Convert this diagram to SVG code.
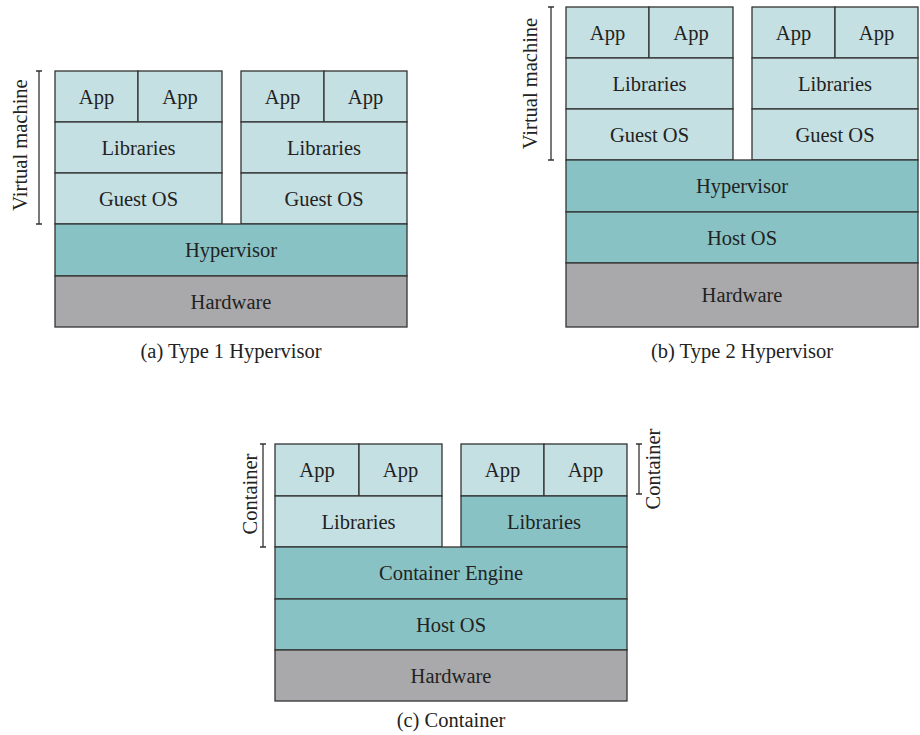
<svg xmlns="http://www.w3.org/2000/svg" width="920" height="735" viewBox="0 0 920 735">
<style>
rect{stroke:#333;stroke-width:1.3}
.l{fill:#c5e0e2}
.m{fill:#88c2c5}
.g{fill:#a9a9ab}
text{font-family:"Liberation Serif","Times New Roman",serif;font-size:20.5px;fill:#222;text-anchor:middle}
.br{stroke:#333;stroke-width:1.3;fill:none}
</style>
<!-- (a) -->
<g id="a-vm1">
<rect class="l" x="55" y="71" width="83" height="51"/><text x="96.5" y="103.5">App</text>
<rect class="l" x="138" y="71" width="84" height="51"/><text x="180" y="103.5">App</text>
<rect class="l" x="55" y="122" width="167" height="51"/><text x="138.5" y="154.5">Libraries</text>
<rect class="l" x="55" y="173" width="167" height="51"/><text x="138.5" y="205.5">Guest OS</text>
</g>
<g id="a-vm2">
<rect class="l" x="241" y="71" width="83" height="51"/><text x="282.5" y="103.5">App</text>
<rect class="l" x="324" y="71" width="83" height="51"/><text x="365.5" y="103.5">App</text>
<rect class="l" x="241" y="122" width="166" height="51"/><text x="324" y="154.5">Libraries</text>
<rect class="l" x="241" y="173" width="166" height="51"/><text x="324" y="205.5">Guest OS</text>
</g>
<g id="a-hyp"><rect class="m" x="55" y="224" width="352" height="52"/><text x="231" y="257">Hypervisor</text></g>
<g id="a-hw"><rect class="g" x="55" y="276" width="352" height="51"/><text x="231" y="308.5">Hardware</text></g>
<g id="a-label"><text x="231" y="358">(a) Type 1 Hypervisor</text></g>
<!-- (b) -->
<g id="b-vm1">
<rect class="l" x="566" y="7" width="83" height="51"/><text x="607.5" y="39.5">App</text>
<rect class="l" x="649" y="7" width="84" height="51"/><text x="691" y="39.5">App</text>
<rect class="l" x="566" y="58" width="167" height="51"/><text x="649.5" y="90.5">Libraries</text>
<rect class="l" x="566" y="109" width="167" height="51"/><text x="649.5" y="141.5">Guest OS</text>
</g>
<g id="b-vm2">
<rect class="l" x="752" y="7" width="83" height="51"/><text x="793.5" y="39.5">App</text>
<rect class="l" x="835" y="7" width="83" height="51"/><text x="876.5" y="39.5">App</text>
<rect class="l" x="752" y="58" width="166" height="51"/><text x="835" y="90.5">Libraries</text>
<rect class="l" x="752" y="109" width="166" height="51"/><text x="835" y="141.5">Guest OS</text>
</g>
<g id="b-hyp"><rect class="m" x="566" y="160" width="352" height="52"/><text x="742" y="193">Hypervisor</text></g>
<g id="b-host"><rect class="m" x="566" y="212" width="352" height="51"/><text x="742" y="244.5">Host OS</text></g>
<g id="b-hw"><rect class="g" x="566" y="263" width="352" height="64"/><text x="742" y="302">Hardware</text></g>
<g id="b-label"><text x="742" y="358">(b) Type 2 Hypervisor</text></g>
<!-- (c) -->
<g id="c-ct1">
<rect class="l" x="275" y="444" width="84" height="52"/><text x="317" y="477">App</text>
<rect class="l" x="359" y="444" width="83" height="52"/><text x="400.5" y="477">App</text>
<rect class="l" x="275" y="496" width="167" height="51"/><text x="358.5" y="528.5">Libraries</text>
</g>
<g id="c-ct2">
<rect class="l" x="461" y="444" width="83" height="52"/><text x="502.5" y="477">App</text>
<rect class="l" x="544" y="444" width="83" height="52"/><text x="585.5" y="477">App</text>
<rect class="m" x="461" y="496" width="166" height="51"/><text x="544" y="528.5">Libraries</text>
</g>
<g id="c-engine"><rect class="m" x="275" y="547" width="352" height="52"/><text x="451" y="580">Container Engine</text></g>
<g id="c-host"><rect class="m" x="275" y="599" width="352" height="51"/><text x="451" y="631.5">Host OS</text></g>
<g id="c-hw"><rect class="g" x="275" y="650" width="352" height="51"/><text x="451" y="682.5">Hardware</text></g>
<g id="c-label"><text x="451" y="727">(c) Container</text></g>
<!-- brackets -->
<g id="connectors">
<path class="br" d="M36 71H42M39 71V224M36 224H42"/>
<path class="br" d="M548 7H554M551 7V160M548 160H554"/>
<path class="br" d="M260 444H266M263 444V547M260 547H266"/>
<path class="br" d="M636 444H642M639 444V494M636 494H642"/>
</g>
<g id="bracket-labels">
<text transform="translate(27,145) rotate(-90)">Virtual machine</text>
<text transform="translate(537,83.5) rotate(-90)">Virtual machine</text>
<text transform="translate(257,494) rotate(-90)">Container</text>
<text transform="translate(660,469) rotate(-90)">Container</text>
</g>
</svg>
